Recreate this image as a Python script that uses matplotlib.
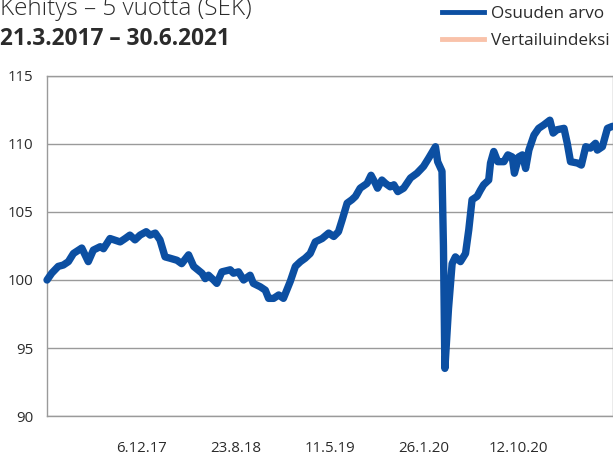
import pandas as pd
import matplotlib
matplotlib.use("Agg")
import matplotlib.pyplot as plt
from matplotlib.lines import Line2D

plt.rcParams["font.family"] = ["Open Sans", "DejaVu Sans"]

# osuuden arvo, luettu kuvasta
dates = [
    "2017-03-21", "2017-04-03", "2017-04-21", "2017-05-05", "2017-05-19", "2017-06-02",
    "2017-06-25", "2017-07-13", "2017-07-27", "2017-08-15", "2017-08-24", "2017-09-11",
    "2017-10-09", "2017-10-23", "2017-11-05", "2017-11-19", "2017-12-03", "2017-12-20",
    "2017-12-31", "2018-01-14", "2018-01-27", "2018-02-10", "2018-02-24", "2018-03-15",
    "2018-03-28", "2018-04-16", "2018-04-30", "2018-05-23", "2018-06-01", "2018-06-10",
    "2018-06-24", "2018-07-03", "2018-07-17", "2018-08-09", "2018-08-18", "2018-09-01",
    "2018-09-15", "2018-10-03", "2018-10-12", "2018-10-31", "2018-11-14", "2018-11-23",
    "2018-12-07", "2018-12-21", "2019-01-03", "2019-01-22", "2019-02-05", "2019-02-19",
    "2019-03-04", "2019-03-18", "2019-04-01", "2019-04-20", "2019-05-08", "2019-05-22",
    "2019-06-04", "2019-06-14", "2019-06-28", "2019-07-11", "2019-07-21", "2019-08-03",
    "2019-08-22", "2019-09-02", "2019-09-14", "2019-09-20", "2019-10-02", "2019-10-12",
    "2019-10-25", "2019-11-04", "2019-11-15", "2019-12-01", "2019-12-20", "2020-01-07",
    "2020-01-25", "2020-02-08", "2020-02-27", "2020-03-04", "2020-03-16", "2020-03-20",
    "2020-03-24", "2020-04-03", "2020-04-13", "2020-04-22", "2020-05-06", "2020-05-20",
    "2020-05-29", "2020-06-07", "2020-06-21", "2020-06-30", "2020-07-09", "2020-07-23",
    "2020-07-28", "2020-08-06", "2020-08-17", "2020-09-03", "2020-09-14", "2020-09-26",
    "2020-10-02", "2020-10-14", "2020-10-24", "2020-11-02", "2020-11-11", "2020-11-25",
    "2020-12-08", "2020-12-22", "2021-01-08", "2021-01-17", "2021-01-28", "2021-02-16",
    "2021-02-25", "2021-03-06", "2021-03-25", "2021-04-05", "2021-04-17", "2021-04-30",
    "2021-05-14", "2021-05-19", "2021-06-02", "2021-06-16", "2021-06-30",
]
values = [
    100.0, 100.5, 101.0, 101.1, 101.35, 101.95,
    102.35, 101.35, 102.2, 102.45, 102.3, 103.05,
    102.8, 103.05, 103.3, 102.95, 103.3, 103.55,
    103.3, 103.45, 102.95, 101.7, 101.6, 101.45,
    101.2, 101.85, 101.0, 100.5, 100.1, 100.35,
    100.0, 99.75, 100.6, 100.75, 100.5, 100.6,
    100.0, 100.35, 99.75, 99.5, 99.25, 98.65,
    98.65, 98.9, 98.65, 99.9, 101.0, 101.35,
    101.6, 101.95, 102.8, 103.05, 103.45, 103.2,
    103.55, 104.4, 105.65, 105.9, 106.15, 106.75,
    107.1, 107.7, 107.1, 106.75, 107.35, 107.1,
    106.85, 107.0, 106.5, 106.75, 107.5, 107.85,
    108.35, 108.95, 109.8, 108.7, 108.0, 102.5,
    93.5, 97.9, 101.2, 101.7, 101.35, 101.95,
    103.7, 105.9, 106.15, 106.6, 107.0, 107.35,
    108.6, 109.45, 108.7, 108.7, 109.2, 109.05,
    107.85, 109.05, 109.2, 108.2, 109.55, 110.65,
    111.15, 111.4, 111.75, 110.8, 111.05, 111.15,
    110.05, 108.7, 108.6, 108.45, 109.8, 109.7,
    110.05, 109.55, 109.8, 111.15, 111.3,
]

tick_dates = ["2017-12-06", "2018-08-23", "2019-05-11", "2020-01-26", "2020-10-12"]
tick_labels = ["6.12.17", "23.8.18", "11.5.19", "26.1.20", "12.10.20"]
y_ticks = [90, 95, 100, 105, 110, 115]

series_names = ["Osuuden arvo", "Vertailuindeksi"]
blue = "#0c4fa2"
salmon = "#f9c2aa"
grey = "#9a9a9a"
text_col = "#2b2b2b"

df = pd.DataFrame({"Date": pd.to_datetime(dates), "value": values}).set_index("Date")

fig = plt.figure(figsize=(6.13, 4.55), dpi=100)
ax = fig.add_axes([0.0767, 0.0857, 0.9225, 0.7473])

ax.plot(df.index, df["value"], color=blue, lw=5.3, solid_capstyle="round",
        solid_joinstyle="round", clip_on=False, zorder=3)

ax.set_ylim(90, 115)
ax.set_xlim(pd.Timestamp("2017-03-21"), pd.Timestamp("2021-06-30"))
ax.set_yticks(y_ticks)
ax.set_xticks(pd.to_datetime(tick_dates))
ax.set_xticklabels(tick_labels)
ax.grid(axis="y", color=grey, lw=1.0)
ax.set_axisbelow(True)
for s in ax.spines.values():
    s.set_color(grey)
    s.set_linewidth(1.0)
ax.tick_params(axis="both", length=0, labelsize=10.8, colors=text_col)
ax.tick_params(axis="y", pad=10)
ax.tick_params(axis="x", pad=18)

fig.text(0.0, 1 - 15 / 455, "Kehitys \u2013 5 vuotta (SEK)", fontsize=17.5, fontweight="light",
         color=text_col, va="baseline", ha="left")
fig.text(0.0, 1 - 45 / 455, "21.3.2017 \u2013 30.6.2021", fontsize=16.3, fontweight="bold",
         color=text_col, va="baseline", ha="left")

handles = [Line2D([], [], color=blue, lw=3.5), Line2D([], [], color=salmon, lw=3.5)]
fig.legend(handles, series_names, loc="upper right", bbox_to_anchor=(1.0, 1 - 3 / 455),
           frameon=False, fontsize=12.3, handlelength=2.45, handletextpad=0.4,
           labelspacing=0.6, borderaxespad=0.1, borderpad=0.1, labelcolor=text_col)

fig.savefig("out.png", dpi=100)
